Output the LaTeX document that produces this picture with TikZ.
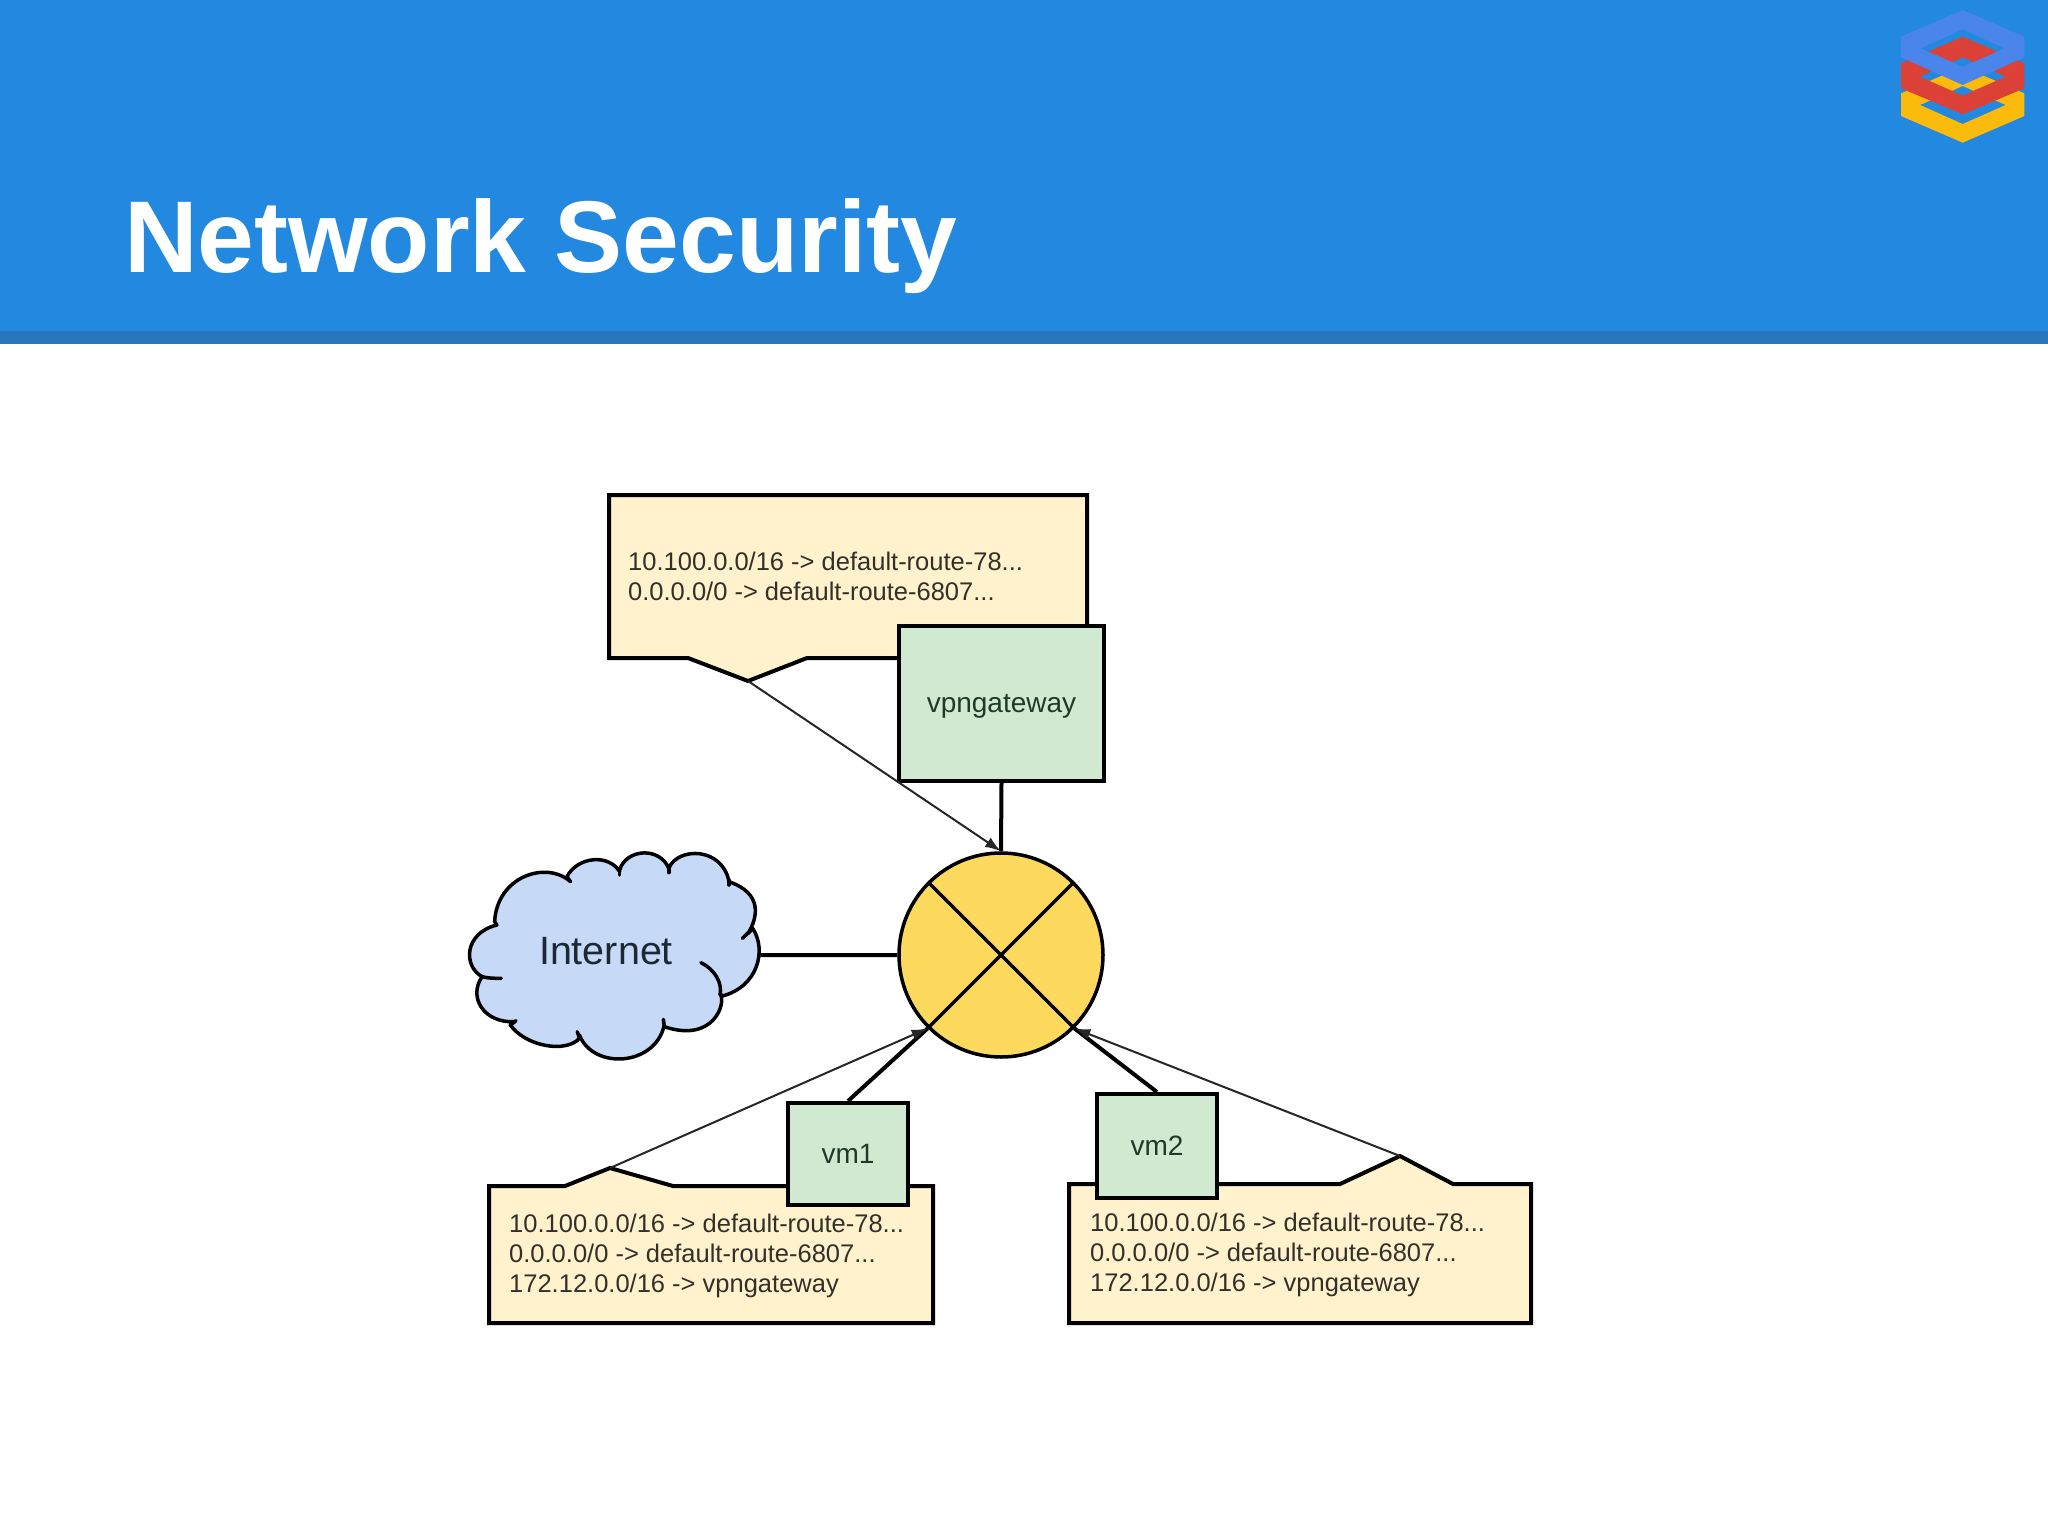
\documentclass[tikz,border=0pt]{standalone}
\usepackage{fontspec}
\setmainfont{Liberation Sans}
\usetikzlibrary{arrows.meta}
\definecolor{hdr}{HTML}{2388DF}
\definecolor{hdrdark}{HTML}{2776BE}
\definecolor{callfill}{HTML}{FFF2CC}
\definecolor{boxfill}{HTML}{D2E9D1}
\definecolor{hubfill}{HTML}{FDD95E}
\definecolor{cloudfill}{HTML}{C6D9F7}
\definecolor{logoblue}{HTML}{4A85EC}
\definecolor{logored}{HTML}{DC4138}
\definecolor{logoyellow}{HTML}{FBBB0C}
\definecolor{bodytext}{HTML}{33302A}
\definecolor{boxtext}{HTML}{1E3A28}
\definecolor{cloudtext}{HTML}{1C2836}
\tikzset{
  x=1pt,y=-1pt,
  thickline/.style={line width=4pt,draw=black},
  thinarrow/.style={line width=2pt,draw=black!85,-{Latex[length=16pt,width=11pt]}},
  callout/.style={line width=4pt,draw=black,fill=callfill,line join=miter},
  greenbox/.style={rectangle,draw=black,line width=4pt,fill=boxfill,inner sep=0pt,text=boxtext,text depth=0pt,font=\fontsize{28}{32}\selectfont},
  calltext/.style={inner sep=0pt,anchor=west,align=left,text=bodytext,font=\fontsize{25.5}{30}\selectfont},
  cloudline/.style={line width=3.5pt,draw=black,line cap=round},
}
\begin{document}
\begin{tikzpicture}
\useasboundingbox (0,0) rectangle (2048,1536);
\fill[white] (0,0) rectangle (2048,1536);
% header
\fill[hdr] (0,0) rectangle (2048,331);
\fill[hdrdark] (0,331) rectangle (2048,344);
\node[anchor=base west,inner sep=0pt,text=white,font=\fontsize{102}{110}\selectfont\bfseries] (title) at (124,272) {Network Security};
% logo
\begin{scope}[shift={(1860,0)},x=0.33333pt,y=-0.33333pt]
\fill[logoyellow,even odd rule] (308,200)--(493,280)--(493,348)--(308,428)--(123,348)--(123,280)--cycle
  (308,258)--(437,315)--(308,372)--(180,315)--cycle;
\fill[logored,even odd rule] (308,110)--(493,190)--(493,265)--(308,343)--(123,265)--(123,190)--cycle
  (308,172)--(437,230)--(308,287)--(180,230)--cycle;
\fill[logoblue,even odd rule] (308,30)--(493,110)--(493,172)--(308,255)--(123,172)--(123,110)--cycle
  (308,88)--(435,145)--(308,200)--(182,145)--cycle;
\end{scope}
% callouts
\coordinate (tipA) at (748,681);
\coordinate (tipB) at (610,1168);
\coordinate (tipC) at (1400,1156);
\draw[callout] (609,495) -- (1087,495) -- (1087,658) -- (807,658) -- (tipA) -- (688,658) -- (609,658) -- cycle;
\draw[callout] (489,1186) -- (565,1186) -- (tipB) -- (673,1186) -- (933,1186) -- (933,1323) -- (489,1323) -- cycle;
\draw[callout] (1069,1184) -- (1340,1184) -- (tipC) -- (1453,1184) -- (1531,1184) -- (1531,1323) -- (1069,1323) -- cycle;
\node[calltext] (textA) at (628,576) {10.100.0.0/16 -> default-route-78...\\0.0.0.0/0 -> default-route-6807...};
\node[calltext] (textB) at (509,1256) {10.100.0.0/16 -> default-route-78...\\0.0.0.0/0 -> default-route-6807...\\172.12.0.0/16 -> vpngateway};
\node[calltext] (textC) at (1090,1255) {10.100.0.0/16 -> default-route-78...\\0.0.0.0/0 -> default-route-6807...\\172.12.0.0/16 -> vpngateway};
% hub
\node[circle,draw=black,line width=3.5pt,fill=hubfill,minimum size=204pt,inner sep=0pt] (hub) at (1001,955) {};
\draw[line width=3.5pt,draw=black] (hub.45) -- (hub.225);
\draw[line width=3.5pt,draw=black] (hub.135) -- (hub.315);
% boxes
\node[greenbox,minimum width=205pt,minimum height=155pt] (vpn) at (1001.5,703.5) {vpngateway};
\node[greenbox,minimum width=120pt,minimum height=102pt] (vmone) at (848,1154) {vm1};
\node[greenbox,minimum width=120pt,minimum height=104pt] (vmtwo) at (1157,1146) {vm2};
% cloud
\begin{scope}[shift={(450,830)},x=0.44643pt,y=-0.33333pt]
\draw[line width=3.5pt,draw=black,fill=cloudfill,line join=round]
  (100,275) .. controls (105,140) and (215,90) .. (270,155)
  -- (262,140) .. controls (285,80) and (355,70) .. (380,125)
  -- (380,120) .. controls (395,55) and (470,50) .. (490,115)
  .. controls (510,50) and (610,50) .. (625,155)
  .. controls (700,190) and (690,260) .. (668,310)
  -- (678,295) .. controls (710,360) and (690,470) .. (610,498)
  -- (605,490) .. controls (620,520) and (590,640) .. (480,590)
  -- (480,585) .. controls (460,710) and (320,720) .. (290,615)
  -- (290,625) .. controls (260,670) and (170,650) .. (135,585)
  -- (145,575) .. controls (75,580) and (40,500) .. (72,440)
  .. controls (30,410) and (30,310) .. (105,285) -- cycle;
\draw[cloudline] (562,398) .. controls (595,420) and (610,460) .. (605,495);
\draw[cloudline] (72,440) .. controls (85,445) and (100,445) .. (115,445);
\draw[cloudline] (135,585) -- (148,572);
\draw[cloudline] (285,605) -- (290,625);
\draw[cloudline] (478,568) -- (480,590);
\draw[cloudline] (655,325) -- (678,295);
\draw[cloudline] (625,165) -- (625,150);
\draw[cloudline] (490,128) -- (490,115);
\draw[cloudline] (380,135) -- (380,120);
\coordinate (cloudedge) at (695,375);
\end{scope}
\node[inner sep=0pt,text=cloudtext,font=\fontsize{39.5}{44}\selectfont] (internet) at (606,951) {Internet};
% connectors
\draw[thickline] (cloudedge) -- (hub.west);
\draw[thickline] (vpn.south) -- (hub.north);
\draw[thickline] (vmone.north) -- (hub.225);
\draw[thickline] (vmtwo.north) -- (hub.315);
\draw[thinarrow] (tipA) -- (hub.north);
\draw[thinarrow] (tipB) -- (hub.225);
\draw[thinarrow] (tipC) -- (hub.315);
\end{tikzpicture}
\end{document}
